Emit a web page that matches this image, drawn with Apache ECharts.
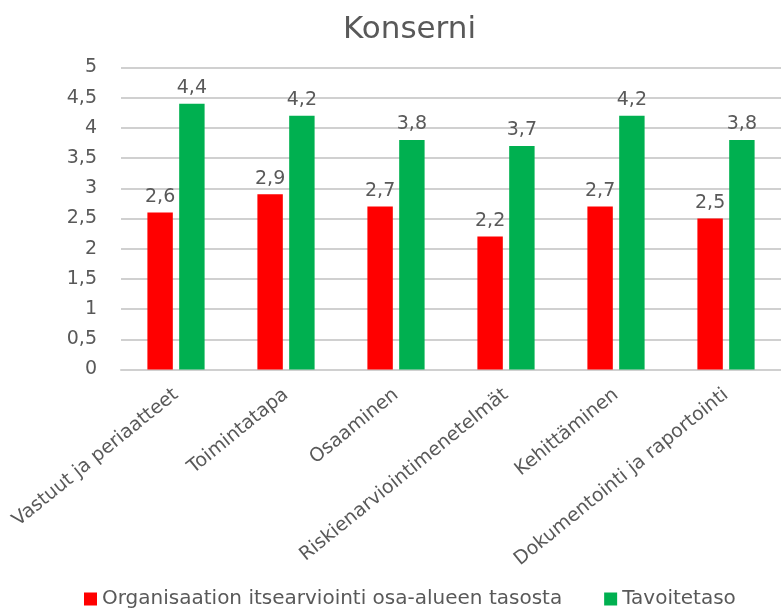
<!DOCTYPE html>
<html>
<head>
    <meta charset="utf-8">
    <title>Konserni</title>
    <script src="https://cdn.jsdelivr.net/npm/echarts@6/dist/echarts.min.js"></script>
</head>
<body style="margin:0">
<div id="main" style="width: 781px;height:610px;"></div>
<script type="text/javascript">
    // osa-alueet
    var categories = ['Vastuut ja periaatteet', 'Toimintatapa', 'Osaaminen',
        'Riskienarviointimenetelmät', 'Kehittäminen', 'Dokumentointi ja raportointi'];
    var itsearvio = [2.6, 2.9, 2.7, 2.2, 2.7, 2.5];
    var tavoite = [4.4, 4.2, 3.8, 3.7, 4.2, 3.8];
    var seriesNames = ['Organisaation itsearviointi osa-alueen tasosta', 'Tavoitetaso'];

    var fontFam = 'DejaVu Sans';
    var txt = '#595959';

    function fi(v) {
        return String(v).replace('.', ',');
    }

    var myChart = echarts.init(document.getElementById('main'));
    var option = {
        animation: false,
        textStyle: {fontFamily: fontFam},
        title: {
            text: 'Konserni',
            left: 338,
            top: 9,
            textStyle: {fontSize: 31, fontWeight: 'normal', color: txt, fontFamily: fontFam}
        },
        legend: {
            data: seriesNames,
            bottom: -4,
            left: 79,
            icon: 'rect',
            itemWidth: 13,
            itemHeight: 13,
            itemGap: 42,
            textStyle: {fontSize: 20, color: txt, fontFamily: fontFam}
        },
        grid: {
            left: 121,
            top: 67.5,
            width: 672,
            height: 302
        },
        xAxis: {
            type: 'category',
            data: categories,
            axisTick: {show: false},
            axisLine: {lineStyle: {color: '#d0d0d0', width: 2}},
            axisLabel: {
                rotate: 39,
                interval: 0,
                margin: 23,
                fontSize: 19,
                color: txt,
                fontFamily: fontFam
            }
        },
        yAxis: {
            type: 'value',
            min: 0,
            max: 5,
            interval: 0.5,
            axisLine: {show: false},
            axisTick: {show: false},
            splitLine: {lineStyle: {color: '#d0d0d0', width: 2}},
            axisLabel: {
                margin: 24,
                fontSize: 19,
                color: txt,
                fontFamily: fontFam,
                formatter: function (v) { return fi(v); }
            }
        },
        series: [
            {
                name: seriesNames[0],
                type: 'bar',
                data: itsearvio,
                barGap: '25%',
                barCategoryGap: '48%',
                itemStyle: {color: '#ff0000'},
                label: {
                    show: true, position: 'top', distance: 6,
                    fontSize: 19, color: txt, fontFamily: fontFam,
                    formatter: function (p) { return fi(p.value); }
                }
            },
            {
                name: seriesNames[1],
                type: 'bar',
                data: tavoite,
                itemStyle: {color: '#00b050'},
                label: {
                    show: true, position: 'top', distance: 6,
                    fontSize: 19, color: txt, fontFamily: fontFam,
                    formatter: function (p) { return fi(p.value); }
                }
            }
        ]
    };
    myChart.setOption(option);
</script>
</body>
</html>
